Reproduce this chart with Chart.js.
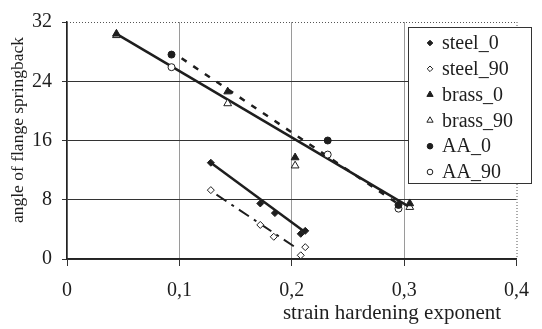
<!DOCTYPE html>
<html>
<head>
<meta charset="utf-8">
<script src="https://cdn.jsdelivr.net/npm/chart.js@4.4.1/dist/chart.umd.min.js"></script>
<style>
    html, body { margin: 0; padding: 0; background: #fff; }
</style>
</head>
<body>
<canvas id="chart" width="542" height="329"></canvas>
<script>
    // Measured springback angle vs. strain hardening exponent n
    var steel0X = [0.128, 0.172, 0.185, 0.208, 0.212];
    var steel0Y = [13.0, 7.5, 6.2, 3.4, 3.8];
    var steel90X = [0.128, 0.172, 0.184, 0.208, 0.212];
    var steel90Y = [9.3, 4.6, 3.0, 0.5, 1.6];
    var brass0X = [0.044, 0.143, 0.203, 0.305];
    var brass0Y = [30.4, 22.6, 13.7, 7.5];
    var brass90X = [0.044, 0.143, 0.203, 0.305];
    var brass90Y = [30.2, 21.0, 12.6, 7.0];
    var aa0X = [0.093, 0.232, 0.295];
    var aa0Y = [27.6, 16.0, 7.3];
    var aa90X = [0.093, 0.232, 0.295];
    var aa90Y = [25.9, 14.1, 6.8];

    // Trend lines (end points)
    var fitSteel0X = [0.128, 0.212], fitSteel0Y = [13.0, 3.6];
    var fitSteel90X = [0.133, 0.205], fitSteel90Y = [8.7, 1.4];
    var fitBrassX = [0.044, 0.305], fitBrassY = [30.4, 7.0];
    var fitAAX = [0.102, 0.297], fitAAY = [27.1, 7.2];

    var xTicks = [0, 0.1, 0.2, 0.3, 0.4];
    var yTicks = [0, 8, 16, 24, 32];

    var FONT = 'Liberation Serif';
    var INK = '#1e1e1e';

    function pts(xs, ys) {
        return xs.map(function (x, i) { return {x: x, y: ys[i]}; });
    }

    function markers(label, xs, ys, style, radius, filled) {
        return {
            label: label,
            data: pts(xs, ys),
            showLine: false,
            pointStyle: style,
            pointRadius: radius,
            pointBackgroundColor: filled ? INK : '#fff',
            pointBorderColor: INK,
            pointBorderWidth: 1,
            order: 1,
        };
    }

    function fit(xs, ys, width, dash) {
        return {
            label: '',
            fit: true,
            data: pts(xs, ys),
            showLine: true,
            borderColor: INK,
            borderWidth: width,
            borderDash: dash,
            pointRadius: 0,
            order: 2,
        };
    }

    // Boxed legend inside the plot, upper right
    var boxLegend = {
        id: 'boxLegend',
        afterDatasetsDraw: function (chart) {
            var ctx = chart.ctx;
            var x0 = 408, y0 = 27, w = 123, h = 156;
            ctx.save();
            ctx.fillStyle = '#fff';
            ctx.fillRect(x0, y0, w, h);
            ctx.strokeStyle = '#333';
            ctx.lineWidth = 1;
            ctx.strokeRect(x0 + 0.5, y0 + 0.5, w, h);
            var sets = chart.data.datasets.filter(function (d) { return !d.fit; });
            sets.forEach(function (d, i) {
                var cy = 43 + i * 25.8;
                ctx.fillStyle = d.pointBackgroundColor;
                ctx.strokeStyle = INK;
                ctx.lineWidth = 1;
                Chart.helpers.drawPoint(ctx, {
                    pointStyle: d.pointStyle,
                    radius: d.pointRadius * 0.8,
                    borderWidth: 1,
                    rotation: 0,
                }, 430, cy);
                ctx.fillStyle = INK;
                ctx.font = '20px "' + FONT + '"';
                ctx.textBaseline = 'middle';
                ctx.textAlign = 'left';
                ctx.fillText(d.label, 442, cy + 1);
            });
            ctx.restore();
        },
    };

    // Dotted frame on top/right and the axis titles
    var frame = {
        id: 'frame',
        beforeDatasetsDraw: function (chart) {
            var a = chart.chartArea, ctx = chart.ctx;
            ctx.save();
            ctx.strokeStyle = '#555';
            ctx.lineWidth = 1;
            ctx.setLineDash([1, 2]);
            ctx.beginPath();
            ctx.moveTo(a.left, a.top + 0.5);
            ctx.lineTo(a.right, a.top + 0.5);
            ctx.moveTo(a.right + 0.5, a.top);
            ctx.lineTo(a.right + 0.5, a.bottom);
            ctx.stroke();
            ctx.restore();
        },
        afterDraw: function (chart) {
            var ctx = chart.ctx;
            ctx.save();
            ctx.fillStyle = INK;
            ctx.textAlign = 'center';
            ctx.textBaseline = 'middle';
            ctx.font = '21px "' + FONT + '"';
            ctx.fillText('strain hardening exponent', 392, 313);
            ctx.font = '17.5px "' + FONT + '"';
            ctx.translate(18, 130);
            ctx.rotate(-Math.PI / 2);
            ctx.fillText('angle of flange springback', 0, 0);
            ctx.restore();
        },
    };

    new Chart(document.getElementById('chart'), {
        type: 'scatter',
        data: {
            datasets: [
                markers('steel_0', steel0X, steel0Y, 'rectRot', 3.5, true),
                markers('steel_90', steel90X, steel90Y, 'rectRot', 3.5, false),
                markers('brass_0', brass0X, brass0Y, 'triangle', 4.5, true),
                markers('brass_90', brass90X, brass90Y, 'triangle', 4.5, false),
                markers('AA_0', aa0X, aa0Y, 'circle', 3.5, true),
                markers('AA_90', aa90X, aa90Y, 'circle', 3.5, false),
                fit(fitSteel0X, fitSteel0Y, 2.5, []),
                fit(fitSteel90X, fitSteel90Y, 2, [12, 6, 3, 6]),
                fit(fitBrassX, fitBrassY, 2.5, []),
                fit(fitAAX, fitAAY, 2.5, [6, 8]),
            ],
        },
        options: {
            responsive: false,
            animation: false,
            layout: {padding: {top: 15, right: 14, left: 0, bottom: 0}},
            plugins: {
                legend: {display: false},
                tooltip: {enabled: false},
            },
            scales: {
                x: {
                    type: 'linear',
                    min: 0,
                    max: 0.4,
                    afterFit: function (scale) { scale.height = 70; },
                    afterBuildTicks: function (scale) {
                        scale.ticks = xTicks.map(function (v) { return {value: v}; });
                    },
                    ticks: {
                        font: {family: FONT, size: 20},
                        color: INK,
                        padding: 13,
                        maxRotation: 0,
                        callback: function (v) {
                            return String(Math.round(v * 10) / 10).replace('.', ',');
                        },
                    },
                    grid: {
                        color: function (c) { return c.tick && c.tick.value === 0.4 ? 'rgba(0,0,0,0)' : '#9a9a9a'; },
                        lineWidth: 1,
                        tickColor: '#333',
                        tickLength: 7,
                    },
                    border: {color: '#222', width: 1.5},
                },
                y: {
                    min: 0,
                    max: 32,
                    afterFit: function (scale) { scale.width = 67; },
                    afterBuildTicks: function (scale) {
                        scale.ticks = yTicks.map(function (v) { return {value: v}; });
                    },
                    ticks: {
                        font: {family: FONT, size: 20},
                        color: INK,
                        padding: 10,
                    },
                    grid: {
                        color: function (c) { return c.tick && c.tick.value === 32 ? 'rgba(0,0,0,0)' : '#333'; },
                        lineWidth: 1,
                        tickColor: '#333',
                        tickLength: 5,
                    },
                    border: {color: '#222', width: 1.5},
                },
            },
        },
        plugins: [frame, boxLegend],
    });
</script>
</body>
</html>
